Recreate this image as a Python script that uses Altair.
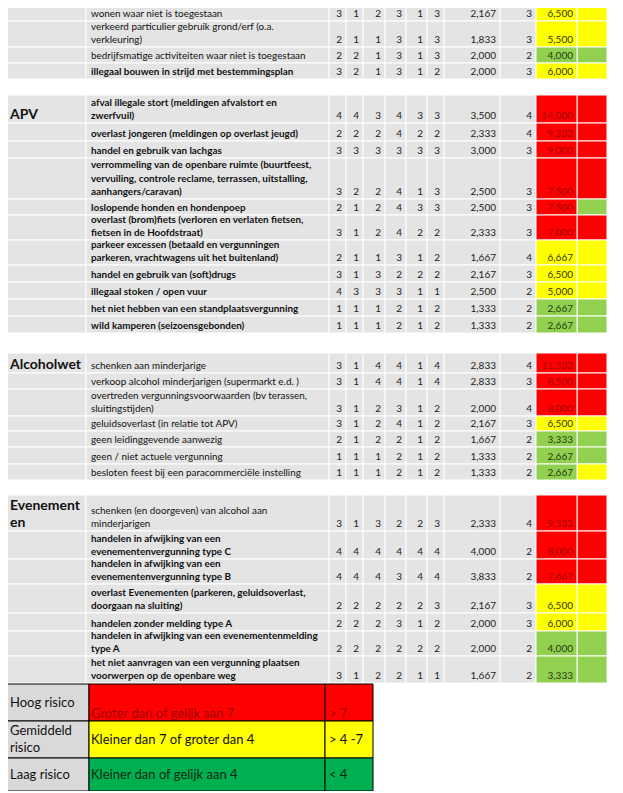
import altair as alt
import pandas as pd

# ---------------- data ----------------
categories = ["", "APV", "Alcoholwet", "Evenement\nen"]
row_category = [0] * 4 + [1] * 11 + [2] * 7 + [3] * 7

descriptions = [
    "wonen waar niet is toegestaan",
    "verkeerd particulier gebruik grond/erf (o.a.\nverkleuring)",
    "bedrijfsmatige activiteiten waar niet is toegestaan",
    "illegaal bouwen in strijd met bestemmingsplan",
    "afval illegale stort (meldingen afvalstort en\nzwerfvuil)",
    "overlast jongeren (meldingen op overlast jeugd)",
    "handel en gebruik van lachgas",
    "verrommeling van de openbare ruimte (buurtfeest,\nvervuiling, controle reclame, terrassen, uitstalling,\naanhangers/caravan)",
    "loslopende honden en hondenpoep",
    "overlast (brom)fiets (verloren en verlaten fietsen,\nfietsen in de Hoofdstraat)",
    "parkeer excessen (betaald en vergunningen\nparkeren, vrachtwagens uit het buitenland)",
    "handel en gebruik van (soft)drugs",
    "illegaal stoken / open vuur",
    "het niet hebben van een standplaatsvergunning",
    "wild kamperen (seizoensgebonden)",
    "schenken aan minderjarige",
    "verkoop alcohol minderjarigen (supermarkt e.d. )",
    "overtreden vergunningsvoorwaarden (bv terassen,\nsluitingstijden)",
    "geluidsoverlast (in relatie tot APV)",
    "geen leidinggevende aanwezig",
    "geen / niet actuele vergunning",
    "besloten feest bij een paracommerciële instelling",
    "schenken (en doorgeven) van alcohol aan\nminderjarigen",
    "handelen in afwijking van een\nevenementenvergunning type C",
    "handelen in afwijking van een\nevenementenvergunning type B",
    "overlast Evenementen (parkeren, geluidsoverlast,\ndoorgaan na sluiting)",
    "handelen zonder melding type A",
    "handelen in afwijking van een evenementenmelding\ntype A",
    "het niet aanvragen van een vergunning plaatsen\nvoorwerpen op de openbare weg",
]

k1 = [3, 2, 2, 3, 4, 2, 3, 3, 2, 3, 2, 3, 4, 1, 1, 3, 3, 3, 3, 2, 1, 1, 3, 4, 4, 2, 2, 2, 3]
k2 = [1, 1, 2, 2, 4, 2, 3, 2, 1, 1, 1, 1, 3, 1, 1, 1, 1, 1, 1, 1, 1, 1, 1, 4, 4, 2, 2, 2, 1]
k3 = [2, 1, 1, 1, 3, 2, 3, 2, 2, 2, 1, 3, 3, 1, 1, 4, 4, 2, 2, 2, 1, 1, 3, 4, 4, 2, 2, 2, 2]
k4 = [3, 3, 3, 3, 4, 4, 3, 4, 4, 4, 3, 2, 3, 2, 2, 4, 4, 3, 4, 2, 2, 2, 2, 4, 3, 2, 3, 2, 2]
k5 = [1, 1, 1, 1, 3, 2, 3, 1, 3, 2, 1, 2, 1, 1, 1, 1, 1, 1, 1, 1, 1, 1, 2, 4, 4, 2, 1, 2, 1]
k6 = [3, 3, 3, 2, 3, 2, 3, 3, 3, 2, 2, 2, 1, 2, 2, 4, 4, 2, 2, 2, 2, 2, 3, 4, 4, 3, 2, 2, 1]

averages = [2.167, 1.833, 2.000, 2.000,
            3.500, 2.333, 3.000, 2.500, 2.500, 2.333, 1.667, 2.167, 2.500, 1.333, 1.333,
            2.833, 2.833, 2.000, 2.167, 1.667, 1.333, 1.333,
            2.333, 4.000, 3.833, 2.167, 2.000, 2.000, 1.667]
weights = [3, 3, 2, 3,
           4, 4, 3, 3, 3, 3, 4, 3, 2, 2, 2,
           4, 3, 4, 3, 2, 2, 2,
           4, 2, 2, 3, 3, 2, 2]
scores = [6.5, 5.5, 4.0, 6.0,
          14.0, 9.333, 9.0, 7.5, 7.5, 7.0, 6.667, 6.5, 5.0, 2.667, 2.667,
          11.333, 8.5, 8.0, 6.5, 3.333, 2.667, 2.667,
          9.333, 8.0, 7.667, 6.5, 6.0, 4.0, 3.333]
extra_level = ["geel", "geel", "groen", "geel",
               "rood", "rood", "rood", "rood", "groen", "rood", "geel", "geel", "geel", "groen", "groen",
               "rood", "rood", "rood", "geel", "groen", "groen", "geel",
               "rood", "rood", "rood", "geel", "geel", "groen", "groen"]

legend_labels = ["Hoog risico", "Gemiddeld\nrisico", "Laag risico"]
legend_texts = [" Groter dan of gelijk aan 7", "Kleiner dan 7 of groter dan 4", "Kleiner dan of gelijk aan 4"]
legend_ranges = ["> 7", "> 4 -7", "< 4"]
legend_levels = ["rood", "geel", "groen"]

# ---------------- styles / layout ----------------
bold_rows = [False, False, False, True] + [True] * 11 + [False] * 7 + \
            [False, True, True, True, True, True, True]
row_heights = [21, 26, 16, 16,
               28, 18, 17, 41, 16, 25, 25, 17, 17, 17, 17,
               20, 16, 27, 15, 16, 17, 16,
               36, 28, 25, 29, 18, 25, 27]
block_gap = {1: 16, 2: 20, 3: 15}
legend_heights = [37, 37, 33]
col_edges = [4, 86, 329, 346, 363, 385, 406, 427, 444, 500, 536, 577, 607]
legend_edges = [4, 89, 325, 373]

GRAY = "#e4e4e4"
LGRAY = "#d9d9d9"
fill_of = {"rood": "#ff0000", "geel": "#ffff00", "groen": "#92d050"}
legend_fill = {"rood": "#ff0000", "geel": "#ffff00", "groen": "#00b050"}
legend_ink = {"rood": "#a00000", "geel": "#111111", "groen": "#0c2a12"}
score_ink = {"rood": "#a00000", "geel": "#333300", "groen": "#1f3a10"}
FONT = "Lato"
DESC_FS = 9.9
DESC_LH = 13.5

OFF = 8
W, H = 607, 783
xs = alt.Scale(domain=[OFF, OFF + W], range=[0, W])
ys = alt.Scale(domain=[OFF, OFF + H], range=[0, H])


def fmt(v):
    return f"{v:.3f}".replace(".", ",")


def level(v):
    return "rood" if v >= 7 else ("geel" if v > 4 else "groen")


def nlines(s):
    return s.count("\n") + 1


# row tops
tops = []
y = 0
for i, h in enumerate(row_heights):
    if i > 0 and row_category[i] != row_category[i - 1]:
        y += block_gap[row_category[i]]
    tops.append(y)
    y += h
table_bottom = y

# ---------------- cell rectangles ----------------
cells = []
score_cells = []
for i in range(len(descriptions)):
    t, b = tops[i], tops[i] + row_heights[i]
    for c in range(len(col_edges) - 1):
        x0, x1 = col_edges[c], col_edges[c + 1]
        if c == 10:
            score_cells.append(dict(x=x0, x2=x1, y=t, y2=b, score=scores[i]))
            continue
        fill = fill_of[extra_level[i]] if c == 11 else GRAY
        cells.append(dict(x=x0, x2=x1, y=t, y2=b, fill=fill))

leg_cells = []
lt = table_bottom + 1
leg_tops = []
for r, h in enumerate(legend_heights):
    leg_tops.append(lt)
    for c in range(3):
        fill = LGRAY if c == 0 else legend_fill[legend_levels[r]]
        leg_cells.append(dict(x=legend_edges[c], x2=legend_edges[c + 1], y=lt, y2=lt + h, fill=fill))
    lt += h


def enc_rect():
    return dict(
        x=alt.X("x:Q", scale=xs, axis=None),
        x2="x2:Q",
        y=alt.Y("y:Q", scale=ys, axis=None),
        y2="y2:Q",
    )


rect_layer = alt.Chart(pd.DataFrame(cells)).mark_rect(stroke="white", strokeWidth=1).encode(
    color=alt.Color("fill:N", scale=None), **enc_rect())

score_layer = alt.Chart(pd.DataFrame(score_cells)).mark_rect(stroke="white", strokeWidth=1).encode(
    fill=alt.Fill("score:Q", scale=alt.Scale(type="threshold", domain=[4.0005, 7],
                                             range=["#92d050", "#ffff00", "#ff0000"]), legend=None),
    **enc_rect())

legend_rect_layer = alt.Chart(pd.DataFrame(leg_cells)).mark_rect(stroke="black", strokeWidth=1).encode(
    color=alt.Color("fill:N", scale=None), **enc_rect())

# ---------------- texts ----------------
desc_rows = []
num_rows = []
for i in range(len(descriptions)):
    b = tops[i] + row_heights[i] - 4
    first = b - (nlines(descriptions[i]) - 1) * DESC_LH
    desc_rows.append(dict(x=91, y=first, text=descriptions[i], bold=bold_rows[i]))
    vals = [k1[i], k2[i], k3[i], k4[i], k5[i], k6[i]]
    for c, v in enumerate(vals):
        num_rows.append(dict(x=col_edges[c + 3] - 4, y=b, text=str(v), ink="#222222"))
    num_rows.append(dict(x=col_edges[9] - 4, y=b, text=fmt(averages[i]), ink="#222222"))
    num_rows.append(dict(x=col_edges[10] - 4, y=b, text=str(weights[i]), ink="#222222"))
    num_rows.append(dict(x=col_edges[11] - 4, y=b, text=fmt(scores[i]),
                         ink=score_ink[level(scores[i])]))

desc_df = pd.DataFrame(desc_rows)


def enc_text():
    return dict(
        x=alt.X("x:Q", scale=xs, axis=None),
        y=alt.Y("y:Q", scale=ys, axis=None),
        text="text:N",
    )


desc_normal = alt.Chart(desc_df[~desc_df.bold]).mark_text(
    align="left", baseline="alphabetic", font=FONT, fontSize=DESC_FS, lineBreak="\n",
    lineHeight=DESC_LH, color="#111111").encode(**enc_text())
desc_bold = alt.Chart(desc_df[desc_df.bold]).mark_text(
    align="left", baseline="alphabetic", font=FONT, fontSize=DESC_FS, fontWeight="bold", lineBreak="\n",
    lineHeight=DESC_LH, color="#111111").encode(**enc_text())

num_layer = alt.Chart(pd.DataFrame(num_rows)).mark_text(
    align="right", baseline="alphabetic", font=FONT, fontSize=10).encode(
    color=alt.Color("ink:N", scale=None), **enc_text())

# category labels (first row of each block)
CAT_LH = 17
cat_rows = []
for k in range(1, len(categories)):
    i = row_category.index(k)
    b = tops[i] + row_heights[i] - 4
    cat_rows.append(dict(x=10, y=b - (nlines(categories[k]) - 1) * CAT_LH, text=categories[k]))
cat_layer = alt.Chart(pd.DataFrame(cat_rows)).mark_text(
    align="left", baseline="alphabetic", font=FONT, fontSize=14, fontWeight="bold",
    lineBreak="\n", lineHeight=CAT_LH, color="#111111").encode(**enc_text())

# legend texts
LEG_LH = 17
leg_text_rows = []
for r in range(3):
    t, h = leg_tops[r], legend_heights[r]
    mid = t + h / 2
    lab = legend_labels[r]
    leg_text_rows.append(dict(x=10, y=mid - (nlines(lab) - 1) * LEG_LH / 2, text=lab, ink="#111111"))
    shift = 11 if r == 0 else 0
    leg_text_rows.append(dict(x=91, y=mid + shift, text=legend_texts[r],
                              ink=legend_ink[legend_levels[r]]))
    leg_text_rows.append(dict(x=329, y=mid + shift, text=legend_ranges[r],
                              ink=legend_ink[legend_levels[r]]))
leg_text_layer = alt.Chart(pd.DataFrame(leg_text_rows)).mark_text(
    align="left", baseline="middle", font=FONT, fontSize=13, lineBreak="\n", lineHeight=LEG_LH).encode(
    color=alt.Color("ink:N", scale=None), **enc_text())

chart = alt.layer(
    rect_layer, score_layer, legend_rect_layer,
    desc_normal, desc_bold, num_layer, cat_layer, leg_text_layer,
).properties(
    width=W, height=H, padding=0, autosize=alt.AutoSizeParams(type="none"),
    background="white",
).configure_view(stroke=None)

chart.save("out.html", embed_options={"renderer": "svg", "actions": False})
